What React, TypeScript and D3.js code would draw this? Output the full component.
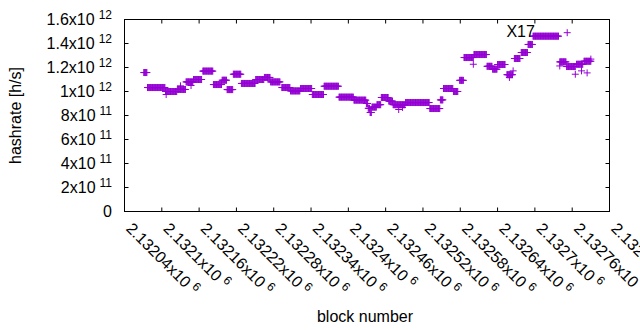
import React from "react";
import * as d3 from "d3";

// hashrate estimate, runs of equal value (first block, last block, hashrate)
const runStart = [
  2132071, 2132077, 2132106, 2132125, 2132139, 2132151, 2132166, 2132183, 2132197, 2132205,
  2132215, 2132228, 2132251, 2132265, 2132275, 2132293, 2132307, 2132323, 2132342, 2132361,
  2132385, 2132409, 2132429, 2132432, 2132435, 2132438, 2132446, 2132453, 2132465, 2132472,
  2132492, 2132531, 2132548, 2132553, 2132569, 2132579, 2132586, 2132602, 2132623, 2132632,
  2132640, 2132655, 2132667, 2132678, 2132689, 2132697, 2132740, 2132751, 2132767, 2132779,
];
const runEnd = [
  2132076, 2132105, 2132124, 2132138, 2132150, 2132164, 2132182, 2132196, 2132204, 2132214,
  2132227, 2132250, 2132264, 2132274, 2132290, 2132306, 2132322, 2132341, 2132360, 2132384,
  2132408, 2132428, 2132431, 2132434, 2132437, 2132445, 2132452, 2132464, 2132471, 2132491,
  2132530, 2132547, 2132552, 2132568, 2132576, 2132585, 2132601, 2132622, 2132631, 2132639,
  2132652, 2132664, 2132676, 2132688, 2132696, 2132738, 2132750, 2132765, 2132777, 2132790,
];
const runValue = [
  1.158e12, 1.033e12, 1.0e12, 1.017e12, 1.08e12, 1.1e12, 1.17e12, 1.058e12, 1.094e12, 1.016e12,
  1.144e12, 1.067e12, 1.1e12, 1.117e12, 1.08e12, 1.033e12, 1.005e12, 1.025e12, 0.975e12, 1.044e12,
  0.953e12, 0.928e12, 0.9e12, 0.86e12, 0.825e12, 0.87e12, 0.89e12, 0.95e12, 0.92e12, 0.89e12,
  0.908e12, 0.858e12, 0.93e12, 1.025e12, 1.0e12, 1.093e12, 1.283e12, 1.308e12, 1.21e12, 1.186e12,
  1.225e12, 1.14e12, 1.275e12, 1.325e12, 1.392e12, 1.461e12, 1.247e12, 1.208e12, 1.227e12, 1.252e12,
];

// single blocks off the runs
const oddBlock = [2132107, 2132130, 2132147, 2132481, 2132487, 2132601, 2132659, 2132665, 2132740, 2132752, 2132765, 2132775, 2132784, 2132790];
const oddValue = [0.975e12, 1.047e12, 1.05e12, 0.85e12, 0.867e12, 1.227e12, 1.117e12, 1.172e12, 1.213e12, 1.49e12, 1.144e12, 1.172e12, 1.155e12, 1.27e12];

const xTicks = [2132040, 2132100, 2132160, 2132220, 2132280, 2132340, 2132400, 2132460, 2132520, 2132580, 2132640, 2132700, 2132760, 2132820];
const yTicks = [0, 2e11, 4e11, 6e11, 8e11, 1e12, 1.2e12, 1.4e12, 1.6e12];

const W = 640;
const H = 330;
const margin = { top: 19.5, right: 30.5, bottom: 118.5, left: 124.5 };
const color = "#9400d3";
const font = "'Liberation Sans', Arial, sans-serif";

const trim = (s: string) => s.replace(/\.?0+$/, "");

const App: React.FC = () => {
  const x = d3.scaleLinear().domain([2132040, 2132820]).range([margin.left, W - margin.right]);
  const y = d3.scaleLinear().domain([0, 1.6e12]).range([H - margin.bottom, margin.top]);

  const pts: [number, number][] = [];
  runStart.forEach((s, i) => {
    for (let b = s; b <= runEnd[i]; b++) pts.push([b, runValue[i]]);
  });
  oddBlock.forEach((b, i) => pts.push([b, oddValue[i]]));

  const x0 = margin.left, x1 = W - margin.right, y0 = H - margin.bottom, y1 = margin.top;
  const tl = 4;

  const yLabel = (v: number) => {
    if (v === 0) return { m: "0", e: "" };
    const e = Math.floor(Math.log10(v) + 1e-9);
    return { m: trim((v / Math.pow(10, e)).toFixed(1)) + "x10", e: String(e) };
  };

  return (
    <svg width={W} height={H} style={{ position: "absolute", left: 0, top: 0 }} fontFamily={font} fontSize={16}>
      <rect width={W} height={H} fill="#fff" />
      {/* points */}
      <g stroke={color} strokeWidth={1}>
        {pts.map(([b, v], i) => (
          <path key={i} d="M-3.5,0H3.5M0,-3.5V3.5" transform={`translate(${x(b)},${y(v)})`} />
        ))}
      </g>
      {/* ticks, mirrored */}
      <g stroke="#000" strokeWidth={1}>
        {xTicks.map((t) => (
          <g key={t}>
            <line x1={x(t)} x2={x(t)} y1={y0} y2={y0 - tl} />
            <line x1={x(t)} x2={x(t)} y1={y1} y2={y1 + tl} />
          </g>
        ))}
        {yTicks.map((t) => (
          <g key={t}>
            <line x1={x0} x2={x0 + tl} y1={y(t)} y2={y(t)} />
            <line x1={x1} x2={x1 - tl} y1={y(t)} y2={y(t)} />
          </g>
        ))}
        <rect x={x0} y={y1} width={x1 - x0} height={y0 - y1} fill="none" />
      </g>
      {/* y tick labels */}
      <g fill="#000">
        {yTicks.map((t) => {
          const l = yLabel(t);
          return (
            <text key={t} x={112} y={y(t)} dy="0.35em" textAnchor="end">
              {l.m}
              {l.e && (
                <tspan dx={4} dy={-6} fontSize={12}>
                  {l.e}
                </tspan>
              )}
            </text>
          );
        })}
      </g>
      {/* x tick labels */}
      <g fill="#000">
        {xTicks.map((t) => (
          <text key={t} transform={`translate(${x(t) + 0.7},229.5) rotate(45)`}>
            {trim((t / 1e6).toFixed(5)) + "x10"}
            <tspan dx={4} dy={-6} fontSize={12}>
              6
            </tspan>
          </text>
        ))}
      </g>
      <text x={x(2132700)} y={y(1.5e12)} dy="0.35em" textAnchor="end">
        X17
      </text>
      <text transform={`translate(20.5,115.5) rotate(-90)`} textAnchor="middle">
        hashrate [h/s]
      </text>
      <text x={365} y={321.5} textAnchor="middle">
        block number
      </text>
    </svg>
  );
};

export default App;
